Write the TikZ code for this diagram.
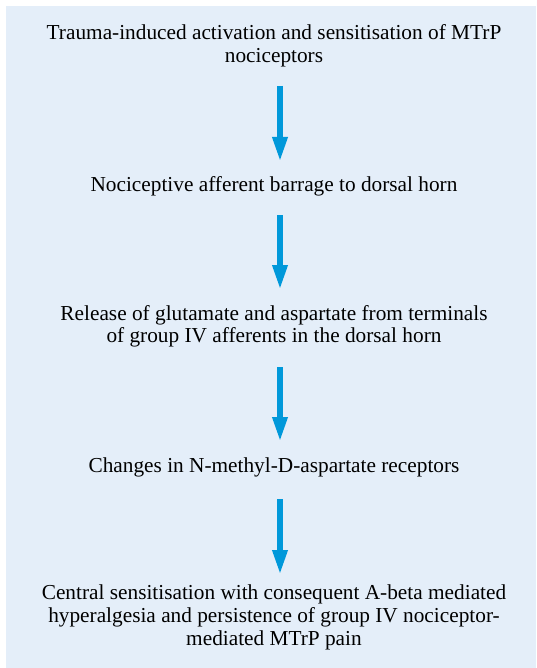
\documentclass[tikz,border=0pt]{standalone}
\usepackage{fontspec}
\setmainfont{Liberation Serif}
\usetikzlibrary{arrows.meta}
\definecolor{panelbg}{HTML}{E4EEF9}
\definecolor{arrowblue}{HTML}{0098DA}
\begin{document}
\begin{tikzpicture}[x=1pt,y=-1pt,
  stagetext/.style={align=center,inner sep=0pt,anchor=base,
    font=\fontsize{21.3}{22.8}\selectfont,text=black},
  flow/.style={draw=arrowblue,line width=6pt,
    -{Triangle[width=14pt,length=25pt,fill=arrowblue]}}]
\useasboundingbox (0,0) rectangle (536,668);
\fill[panelbg] (6,6) rectangle (536,668);

% base anchor of a multi-line node = baseline of its last line
\node[stagetext] (s1) at (274,62.8) {Trauma-induced activation and sensitisation of MTrP\\nociceptors};
\node[stagetext] (s2) at (274,191.7) {Nociceptive afferent barrage to dorsal horn};
\node[stagetext] (s3) at (274,342.8) {Release of glutamate and aspartate from terminals\\of group IV afferents in the dorsal horn};
\node[stagetext] (s4) at (274,472.7) {Changes in N-methyl-D-aspartate receptors};
\node[stagetext] (s5) at (274,645.3) {Central sensitisation with consequent A-beta mediated\\hyperalgesia and persistence of group IV nociceptor-\\mediated MTrP pain};

\coordinate (a1s) at (280,86);  \coordinate (a1e) at (280,162);
\coordinate (a2s) at (280,215); \coordinate (a2e) at (280,290);
\coordinate (a3s) at (280,367); \coordinate (a3e) at (280,442);
\coordinate (a4s) at (280,499); \coordinate (a4e) at (280,575);
\draw[flow] (a1s) -- (a1e);
\draw[flow] (a2s) -- (a2e);
\draw[flow] (a3s) -- (a3e);
\draw[flow] (a4s) -- (a4e);
\end{tikzpicture}
\end{document}
